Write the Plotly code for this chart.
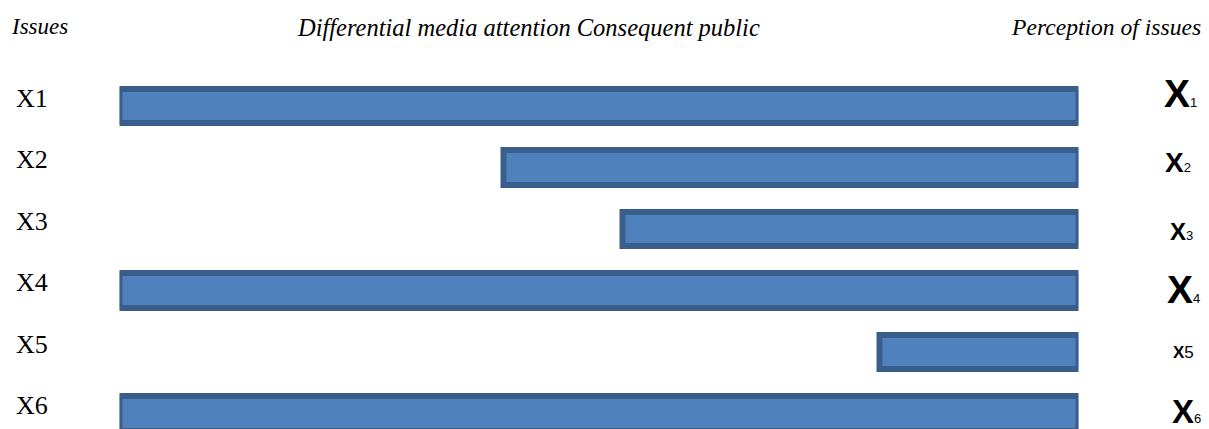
import plotly.graph_objects as go

# ---- data ----
issues = ["X1", "X2", "X3", "X4", "X5", "X6"]
media_attention = [100, 60, 47.5, 100, 20.7, 100]   # length of bar (share of full scale)
perception_size = [39, 28, 24, 39, 17, 33]           # size of perceived issue marker
perception_sub = ["1", "2", "3", "4", "5", "6"]
headers = ["Issues", "Differential media attention Consequent public", "Perception of issues"]

FULL = 100
bases = [FULL - v for v in media_attention]

# page is shown with an 8px body margin: work in page pixels, convert to figure pixels
OFF = 8
W, H = 1209 - OFF, 429 - OFF


def px(xp):
    return (xp - OFF) / W


def py(yp):
    return 1 - (yp - OFF) / H


fig = go.Figure()
fig.add_trace(go.Bar(
    y=issues, x=media_attention, base=bases, orientation="h",
    width=0.56,
    marker=dict(color="#4F81BD", line=dict(color="#3A5E8B", width=6)),
    hoverinfo="skip",
))

annotations = []
# header texts
header_x = [9, 295, 1009]
header_size = [23, 24.5, 23.6]
for txt, hx, hs in zip(headers, header_x, header_size):
    annotations.append(dict(
        text="<i>" + txt + "</i>", xref="paper", yref="paper", x=px(hx), y=py(12),
        xanchor="left", yanchor="top", showarrow=False,
        font=dict(family="Liberation Serif", size=hs, color="#000"),
    ))

# left labels
for lab in issues:
    annotations.append(dict(
        text=lab, xref="paper", yref="y", x=px(14), y=lab,
        xanchor="left", yanchor="middle", showarrow=False, yshift=8,
        font=dict(family="Liberation Serif", size=26, color="#000"),
    ))

# right labels (perception)
right_yshift = [13, 5, -2, 1, 0, 2]
right_xshift = [-1, -3, 0, 2, 2, 5]
for lab, sz, sub, ys, xs in zip(issues, perception_size, perception_sub,
                                right_yshift, right_xshift):
    subsz = 17 if sz < 20 else 13
    annotations.append(dict(
        text="<b>X</b><span style='font-size:%dpx'>%s</span>" % (subsz, sub),
        xref="paper", yref="y", x=px(1181), y=lab,
        xanchor="center", yanchor="middle", showarrow=False,
        yshift=ys, xshift=xs,
        font=dict(family="Liberation Sans", size=sz, color="#000"),
    ))

row_px = 61.5
c0 = 106 - OFF
top_i = -c0 / row_px
bot_i = (H - c0) / row_px

fig.update_layout(
    width=W, height=H,
    margin=dict(l=0, r=0, t=0, b=0),
    paper_bgcolor="white", plot_bgcolor="white",
    showlegend=False,
    bargap=0,
    xaxis=dict(domain=[px(119.5), px(1078.5)], range=[0, FULL], visible=False,
               showgrid=False, zeroline=False, fixedrange=True),
    yaxis=dict(type="category", categoryorder="array", categoryarray=issues,
               range=[bot_i, top_i], visible=False, showgrid=False,
               zeroline=False, fixedrange=True),
    annotations=annotations,
)

fig.write_html("out.html", config={"displayModeBar": False})
